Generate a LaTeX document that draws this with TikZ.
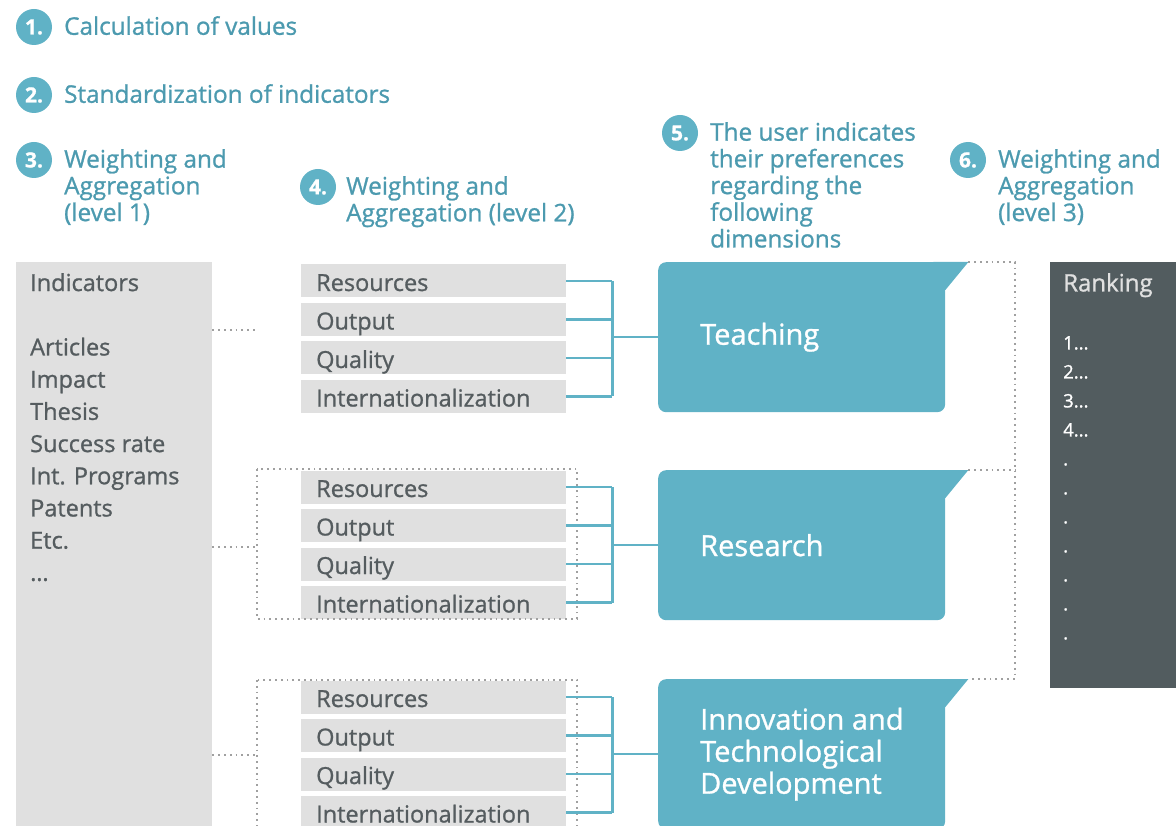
\documentclass[tikz,border=0pt]{standalone}
\usepackage{fontspec}
\setmainfont{Open Sans}[FakeBold=1.0]
\usetikzlibrary{positioning}

\definecolor{tealtext}{HTML}{4C9AAF}
\definecolor{tealfill}{HTML}{60B2C6}
\definecolor{grayfill}{HTML}{E0E0E0}
\definecolor{graytext}{HTML}{555C5F}
\definecolor{rankfill}{HTML}{525C5F}
\definecolor{dotgray}{HTML}{A0A0A0}

\tikzset{
  stepnum/.style={circle, fill=tealfill, text=white, minimum size=36pt, inner sep=0pt,
    font=\fontsize{21}{21}\selectfont\bfseries},
  headtext/.style={anchor=north west, inner sep=0pt, align=left, text=tealtext,
    font=\fontsize{24.3}{26.7}\selectfont},
  rowbox/.style={anchor=west, fill=grayfill, minimum height=33pt, text width=235pt,
    inner xsep=15pt, inner ysep=0pt, align=left, text=graytext, text height=20pt, text depth=0pt,
    font=\fontsize{23.5}{23.5}\selectfont},
  dimbox/.style={anchor=north west, fill=tealfill, rounded corners=8pt,
    minimum width=287pt, minimum height=150pt, inner sep=0pt},
  dimtext/.style={anchor=west, inner sep=0pt, align=left, text=white,
    font=\fontsize{29}{32}\selectfont},
  bus/.style={tealfill, line width=2.4pt},
  dotline/.style={dotgray, line width=1.8pt, dash pattern=on 1.8pt off 4pt},
  listtext/.style={anchor=north west, inner sep=0pt, align=left, text=graytext,
    font=\fontsize{23.5}{32.2}\selectfont},
}

\begin{document}
\begin{tikzpicture}[x=1pt,y=-1pt]
\clip (0,0) rectangle (1176,826);

% Step headers
\node[stepnum] (s1) at (34,27) {1.};
\node[headtext] (h1) at (64,16) {Calculation of values};
\node[stepnum] (s2) at (34,95) {2.};
\node[headtext] (h2) at (64,84) {Standardization of indicators};
\node[stepnum] (s3) at (34,160) {3.};
\node[headtext] (h3) at (64,149) {Weighting and\\Aggregation\\(level 1)};
\node[stepnum] (s4) at (318,187) {4.};
\node[headtext] (h4) at (346,176) {Weighting and\\Aggregation (level 2)};
\node[stepnum] (s5) at (680,133) {5.};
\node[headtext] (h5) at (710,122) {The user indicates\\their preferences\\regarding the\\following\\dimensions};
\node[stepnum] (s6) at (968,160) {6.};
\node[headtext] (h6) at (998,149) {Weighting and\\Aggregation\\(level 3)};

% Indicators column
\node[anchor=north west, fill=grayfill, minimum width=196pt, minimum height=600pt] (ind) at (16,262) {};
\node[listtext] (indlist) at (30,273) {Indicators\\ \\Articles\\Impact\\Thesis\\Success rate\\Int. Programs\\Patents\\Etc.\\\dots};

% Level 2 rows
\foreach \g/\y in {1/281,2/487,3/697}{
  \foreach \lbl [count=\k] in {Resources,Output,Quality,Internationalization}{
    \node[rowbox] (r\g\k) at (301,{\y+38.5*(\k-1)}) {\lbl};
  }
}

% Dotted frames and links from indicators
\coordinate (g1) at (257,330);
\coordinate (g2) at (257,547);
\coordinate (g3) at (257,755);
\draw[dotline] (257,469) rectangle (577,619);
\draw[dotline] (257,680) rectangle (577,860);
\foreach \g in {1,2,3}
  \draw[dotline] (g\g -| ind.east) -- (g\g);

% Dimension callouts
\node[dimbox] (teach) at (658,262) {};
\node[dimbox] (res) at (658,470) {};
\node[dimbox] (inno) at (658,679) {};
\foreach \d in {teach,res,inno}{
  \fill[tealfill] ([xshift=-12pt]\d.north east) -- ++(35,0) -- ++(-23,28) -- ++(-12,0) -- cycle;
  \coordinate (tip\d) at ([xshift=23pt]\d.north east);
}
\node[dimtext, right=42pt of teach.west] (tteach) {Teaching};
\node[dimtext, right=42pt of res.west] (tres) {Research};
\node[dimtext, right=42pt of inno.west] (tinno) {Innovation and\\Technological\\Development};

% Teal connectors
\foreach \g/\d in {1/teach,2/res,3/inno}{
  \foreach \k in {1,...,4}
    \draw[bus] (r\g\k.east) -- ++(46,0);
  \coordinate (b\g) at ([xshift=46pt]r\g1.east);
  \draw[bus] (b\g) -- ([xshift=46pt]r\g4.east);
  \draw[bus] (\d.west -| b\g) -- (\d.west);
}

% Dotted links to ranking
\coordinate (rail) at (1015,262);
\draw[dotline] (tipteach) -- (rail) |- (tipinno);
\draw[dotline] (tipres) -- (tipres -| rail);

% Ranking
\node[anchor=north west, fill=rankfill, minimum width=140pt, minimum height=426pt] (rank) at (1050,262) {};
\node[anchor=north west, inner sep=0pt, text=grayfill, font=\fontsize{24}{24}\selectfont] (rankhead) at (1063,273) {Ranking};
\node[anchor=north west, inner sep=0pt, align=left, text=white, font=\fontsize{18.5}{29}\selectfont] (rankitems) at (1063,336) {1...\\2...\\3...\\4...\\.\\.\\.\\.\\.\\.\\.};
\end{tikzpicture}
\end{document}
